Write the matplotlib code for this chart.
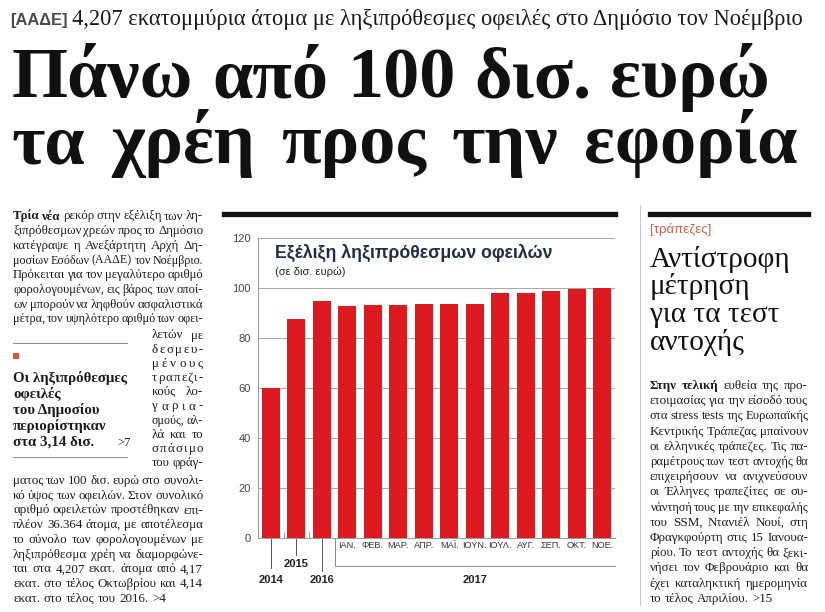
import numpy as np
import matplotlib
matplotlib.use('Agg')
import matplotlib.pyplot as plt
import matplotlib.transforms as mtransforms
from matplotlib.lines import Line2D
from matplotlib.patches import Rectangle

# chart data (billion euro)
periods = ['2014', '2015', '2016', 'ΙΑΝ.', 'ΦΕΒ.', 'ΜΑΡ.', 'ΑΠΡ.', 'ΜΑΪ.',
           'ΙΟΥΝ.', 'ΙΟΥΛ.', 'ΑΥΓ.', 'ΣΕΠ.', 'ΟΚΤ.', 'ΝΟΕ.']
debt = [60.0, 87.8, 94.9, 92.7, 93.4, 93.4, 93.5, 93.5, 93.8,
        98.0, 98.0, 99.0, 99.8, 100.2]
yticks = [0, 20, 40, 60, 80, 100, 120]
year_2017 = '2017'

kicker = '[ΑΑΔΕ]'
subhead = '4,207 εκατομμύρια άτομα με ληξιπρόθεσμες οφειλές στο Δημόσιο τον Νοέμβριο'
headline = ['Πάνω από 100 δισ. ευρώ', 'τα χρέη προς την εφορία']
chart_title = 'Εξέλιξη ληξιπρόθεσμων οφειλών'
chart_sub = '(σε δισ. ευρώ)'

left_top = ['*Τρία *νέα ρεκόρ στην εξέλιξη των λη-',
            'ξιπρόθεσμων χρεών προς το Δημόσιο',
            'κατέγραψε η Ανεξάρτητη Αρχή Δη-',
            'μοσίων Εσόδων (ΑΑΔΕ) τον Νοέμβριο.',
            'Πρόκειται για τον μεγαλύτερο αριθμό',
            'φορολογουμένων, εις βάρος των οποί-',
            'ων μπορούν να ληφθούν ασφαλιστικά',
            'μέτρα, τον υψηλότερο αριθμό των οφει-']
left_narrow = ['λετών με', 'δεσμευ-', 'μένους', 'τραπεζι-', 'κούς λο-',
               'γαρια-', 'σμούς, αλ-', 'λά και το', 'σπάσιμο', 'του φράγ-']
left_bottom = ['ματος των 100 δισ. ευρώ στο συνολι-',
               'κό ύψος των οφειλών. Στον συνολικό',
               'αριθμό οφειλετών προστέθηκαν επι-',
               'πλέον 36.364 άτομα, με αποτέλεσμα',
               'το σύνολο των φορολογουμένων με',
               'ληξιπρόθεσμα χρέη να διαμορφώνε-',
               'ται στα 4,207 εκατ. άτομα από 4,17',
               'εκατ. στο τέλος Οκτωβρίου και 4,14',
               'εκατ. στο τέλος του 2016. >4']
box_head = ['Οι ληξιπρόθεσμες', 'οφειλές', 'του Δημοσίου', 'περιορίστηκαν',
            'στα 3,14 δισ.']
right_kicker = '[τράπεζες]'
right_head = ['Αντίστροφη', 'μέτρηση', 'για τα τεστ', 'αντοχής']
right_body = ['*Στην *τελική ευθεία της προ-',
              'ετοιμασίας για την είσοδό τους',
              'στα stress tests της Ευρωπαϊκής',
              'Κεντρικής Τράπεζας μπαίνουν',
              'οι ελληνικές τράπεζες. Τις πα-',
              'ραμέτρους των τεστ αντοχής θα',
              'επιχειρήσουν να ανιχνεύσουν',
              'οι Έλληνες τραπεζίτες σε συ-',
              'νάντησή τους με την επικεφαλής',
              'του SSM, Ντανιέλ Νουί, στη',
              'Φραγκφούρτη στις 15 Ιανουα-',
              'ρίου. Το τεστ αντοχής θα ξεκι-',
              'νήσει τον Φεβρουάριο και θα',
              'έχει καταληκτική ημερομηνία',
              'το τέλος Απριλίου. >15']

W, H = 825, 612
SERIF = ['Liberation Serif', 'DejaVu Serif']
NARROW = ['Liberation Sans Narrow', 'Liberation Sans', 'DejaVu Sans']
INK = '#1a1a1a'
RED = '#dc1a1f'

fig = plt.figure(figsize=(W / 100, H / 100), dpi=100)
fig.patch.set_facecolor('white')
renderer = fig.canvas.get_renderer()
# pixel coords, origin top-left
tr = mtransforms.Affine2D().scale(1 / W, -1 / H).translate(0, 1) + fig.transFigure


def width_of(t):
    return t.get_window_extent(renderer).width


def fit(x, y, s, width, **kw):
    t = fig.text(x, y, s, transform=tr, va='baseline', **kw)
    t.set_fontsize(t.get_fontsize() * width / width_of(t))
    return t


def line(x, y, s, width, size=9.4, justify=True, color=INK, family=SERIF,
         weight='normal'):
    words = s.split()
    if justify and len(words) == 1:
        tokens = list(words[0])
    else:
        tokens = words
    texts = []
    for w in tokens:
        bold = w.startswith('*')
        texts.append(fig.text(0, y, w.lstrip('*'), transform=tr, va='baseline',
                              family=family, size=size, color=color,
                              weight='bold' if bold else weight))
    ws = np.array([width_of(t) for t in texts])
    spx = size * 100 / 72
    n = len(texts)
    if justify and n > 1:
        min_gap = 0.2 * spx if len(words) > 1 else 0.0
        need = ws.sum() + (n - 1) * min_gap
        if need > width:
            f = width / need
            for t in texts:
                t.set_fontsize(size * f)
            ws = ws * f
        gap = (width - ws.sum()) / (n - 1)
    else:
        gap = 0.27 * spx
    cx = x
    for t, w in zip(texts, ws):
        t.set_x(cx)
        cx += w + gap


# --- header ---
fit(10, 25, kicker, 58, family=NARROW, weight='bold', color='#4a4a4a', size=14)
fit(72, 25, subhead, 736, family=SERIF, color=INK, size=14)
line(12, 97, headline[0], 758, size=52, family=SERIF, weight='bold', color='#111111')
line(12, 163, headline[1], 785, size=52, family=SERIF, weight='bold', color='#111111')

# --- rules ---
fig.add_artist(Line2D([224, 615], [214, 214], transform=tr, color='#111111', lw=3.8))
fig.add_artist(Line2D([650, 808], [213.5, 213.5], transform=tr, color='#111111', lw=3.8))
fig.add_artist(Line2D([640, 640], [205, 605], transform=tr, color='#bbbbbb', lw=0.6))

# --- left column ---
pitch = 14.7
y0 = 219.5
for i, s in enumerate(left_top):
    line(13, y0 + i * pitch, s, 190)
for i, s in enumerate(left_narrow):
    line(152, 338.5 + i * 14.2, s, 51)
for i, s in enumerate(left_bottom):
    line(13, y0 + (i + 18) * pitch, s, 190, justify=(i < len(left_bottom) - 1))

fig.add_artist(Line2D([13, 127], [343, 343], transform=tr, color='#888888', lw=0.7))
fig.add_artist(Line2D([13, 127], [457, 457], transform=tr, color='#888888', lw=0.7))
fig.add_artist(Rectangle((13, 353), 6, 6, transform=tr, color='#e0503a', lw=0))
t = fit(13, 382, box_head[0], 114, family=SERIF, weight='bold', color=INK, size=11)
hs = t.get_fontsize()
for i, s in enumerate(box_head[1:], start=1):
    fig.text(13, 382 + i * 16, s, transform=tr, va='baseline', family=SERIF,
             weight='bold', color=INK, size=hs)
fig.text(117, 446, '>7', transform=tr, va='baseline', family=SERIF, color=INK, size=9)

# --- right column ---
fig.text(650, 233, right_kicker, transform=tr, va='baseline', family=NARROW,
         color='#c8604c', size=9.5)
t = fit(650, 267, right_head[0], 140, family=SERIF, color='#111111', size=20)
rs = t.get_fontsize()
for i, s in enumerate(right_head[1:], start=1):
    fig.text(650, 267 + i * 27.5, s, transform=tr, va='baseline', family=SERIF,
             color='#111111', size=rs)
for i, s in enumerate(right_body):
    line(650, 389 + i * 15.2, s, 158, justify=(i < len(right_body) - 1))

# --- chart ---
ax_left, ax_right, ax_top, ax_bot = 258, 615, 238.3, 537.7
ax = fig.add_axes([ax_left / W, 1 - ax_bot / H, (ax_right - ax_left) / W,
                   (ax_bot - ax_top) / H])
ax.set_facecolor('none')
x = np.arange(len(periods))
ax.bar(x, debt, width=0.7, color=RED, zorder=2)
ax.set_xlim(-0.5, len(periods) - 0.5)
ax.set_ylim(0, 120)
ax.set_yticks(yticks)
ax.set_yticklabels([str(v) for v in yticks], family=NARROW, fontsize=8, color='#444444')
ax.tick_params(axis='y', length=0, pad=5)
ax.grid(axis='y', color='#a8a8a8', lw=0.7, zorder=0)
for side in ['top', 'right']:
    ax.spines[side].set_visible(False)
for side in ['left', 'bottom']:
    ax.spines[side].set_color('#999999')
    ax.spines[side].set_linewidth(0.7)
ax.set_xticks([0.5, 1.5])
ax.set_xticklabels([])
ax.tick_params(axis='x', direction='in', length=4, color='#999999', width=0.7)

xt = ax.get_xaxis_transform()
h = ax_bot - ax_top


def below(py):
    return (ax_bot - py) / h


n_years = 3
for i in range(n_years, len(periods)):
    ax.text(x[i], below(546), periods[i], transform=xt, ha='center', va='center',
            family=NARROW, fontsize=6.6, color='#333333')
leader_end = [568, 555, 571]
label_y = [580, 564, 580]
for i in range(n_years):
    ax.add_line(Line2D([x[i], x[i]], [0, below(leader_end[i])], transform=xt,
                       color='#555555', lw=0.7, clip_on=False))
    ax.text(x[i], below(label_y[i]), periods[i], transform=xt, ha='center',
            va='center', family=NARROW, weight='bold', fontsize=8, color='#222222')
bx = n_years - 0.5
ax.add_line(Line2D([bx, bx, len(periods) - 0.5], [0, below(566), below(566)],
                   transform=xt, color='#888888', lw=0.7, clip_on=False))
ax.text((n_years + len(periods) - 1) / 2, below(580), year_2017, transform=xt,
        ha='center', va='center', family=NARROW, weight='bold', fontsize=8,
        color='#222222')

fit(275, 258, chart_title, 278, family=NARROW, weight='bold', color='#232b48', size=14)
fig.text(275, 275, chart_sub, transform=tr, va='baseline', family=NARROW,
         color='#222222', size=8)

fig.savefig('out.png', dpi=100, facecolor='white')
